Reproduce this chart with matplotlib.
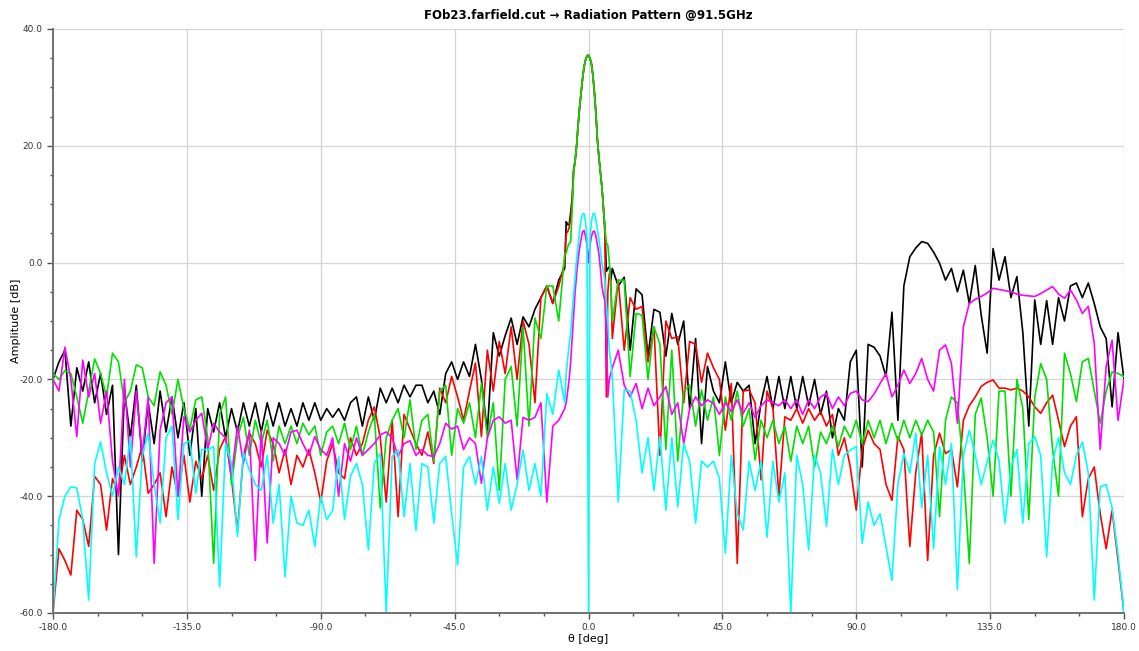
import numpy as np
import matplotlib
matplotlib.use('Agg')
import matplotlib.pyplot as plt
from matplotlib.ticker import MultipleLocator, FormatStrFormatter

# Eje theta: paso 2 grados fuera del lobulo principal, 0.5 grados en el centro
theta = np.concatenate([np.arange(-180, -7, 2), np.arange(-7.5, 7.6, 0.5), np.arange(8, 181, 2)])

# ---------------------------------------------------------------- negro
negro_izq = [-20, -17, -15, -28, -18, -22, -17, -24, -19, -26,
             -21, -50, -22, -30, -21, -34, -24, -31, -22, -29,
             -23, -30, -24, -33, -25, -40, -25, -29, -24, -30,
             -25, -29, -24, -28, -24, -29, -24, -28, -24, -28,
             -25, -28, -24, -27, -24, -27, -25, -26.5, -25, -27,
             -24, -23, -28, -23, -27, -21.5, -24, -21.5, -24, -21,
             -23, -21, -21, -24, -22, -26, -19, -17, -20, -17,
             -19.5, -14, -20, -29, -12, -16, -12.5, -9.5, -14, -9.3,
             -11, -8, -6, -4, -7, -3, -1]
negro_centro = [7, 6.5, 6.5, 8.5, 11, 16, 17.5, 20, 23.5, 26.5,
                29, 31.5, 33.5, 34.7, 35.4, 35.5, 35, 34, 32, 29,
                25.5, 21, 18, 15.5, 13, 9.5, 6, -1.5, -1, -0.7, -3]
negro_der = [-1, -4, -2.5, -15, -4.5, -5.5, -16, -8, -8.5, -16,
             -8.7, -14, -10, -25, -13, -31, -17.8, -22, -24, -17,
             -24, -20.5, -22, -21, -31, -24, -19.5, -25, -19.5, -25,
             -19.5, -25, -19.5, -24.5, -20, -26, -22, -30, -25, -27,
             -17, -15, -35, -14, -14.5, -16, -19.5, -8.5, -27, -4,
             1, 2.5, 3.6, 3.3, 1.8, -0.1, -3, -1, -5, -1.3,
             -7, -0.5, -9, -15.5, 2.4, -3, 1, -6, -2.4, -12,
             -28, -6.4, -14, -6.5, -14, -6, -10, -4, -3.5, -6,
             -3.5, -7, -11, -13, -24.7, -12, -20]

# ---------------------------------------------------------------- rojo
rojo_izq = [-60, -49, -51, -53.5, -42.4, -44, -48.6, -36.6, -38, -45.8,
            -37, -39.5, -33, -38, -35, -31.5, -39.5, -38, -36, -43.5,
            -35, -40, -33, -41, -34, -37, -33, -39, -32, -29.8,
            -37, -46, -33, -29.2, -31, -35, -28.7, -31, -36, -32,
            -38, -33, -35, -32, -36, -41, -34, -31, -36, -37,
            -30, -33, -31, -27, -24.7, -30, -41, -27, -43.5, -26,
            -28.5, -31, -33, -29, -34.4, -21.5, -24, -19.5, -23, -27,
            -22, -17.2, -29.8, -15, -22, -13.5, -19, -11, -20, -10,
            -14, -24, -6, -4, -7, -4, 0]
rojo_centro = [5, 5.3, 6, 7.5, 10, 15.5, 17.3, 20, 23.5, 26.5,
               29, 31.5, 33.5, 34.7, 35.4, 35.5, 35, 34, 32, 29,
               25.5, 21, 18, 15.5, 13, 9.5, 5, -23, -5, -1.9, -3]
rojo_der = [-13, -3, -15, -6, -8, -7.5, -17, -11, -33, -10,
            -13, -12.7, -24, -13.5, -14, -20.5, -15.5, -18, -20, -28.7,
            -20.7, -51.5, -22, -21.8, -24, -37.2, -22, -25, -40, -26.4,
            -27, -25, -27.5, -25, -27, -25.5, -28, -26, -33, -30,
            -35, -42.4, -32, -28.7, -31, -32, -38, -40.7, -29.8, -32,
            -48.6, -36, -29.2, -51, -33, -29.2, -32.7, -32, -38.4, -27,
            -24.5, -23, -21.2, -20.5, -20.1, -21.5, -21.5, -21.8, -21.5, -22,
            -23, -24.7, -25.8, -24, -22.7, -27, -31.5, -28, -26.4, -43.5,
            -37, -35, -43, -49, -42.4, -51, -60]

# ---------------------------------------------------------------- verde
verde_izq = [-19, -20, -18.5, -19, -23, -27.5, -22, -16.5, -19, -23,
             -15.5, -17, -24, -22, -17.5, -18, -23, -24.5, -18.7, -21,
             -26, -20, -25, -28.5, -23.5, -23, -30, -51.5, -26, -23,
             -38, -30, -26.5, -33, -27, -31, -27, -34, -28, -31,
             -28, -31, -27.5, -29.5, -28, -33, -29, -28, -31, -27.5,
             -32, -28, -33, -29, -26, -42, -30, -27, -25, -30,
             -23.5, -32, -27, -26, -34, -22, -21, -33, -25, -27.5,
             -24, -30, -20.7, -30, -24, -39, -20, -17.8, -28, -11,
             -28, -9.5, -13, -4, -4, -10, 1.5]
verde_centro = [1.6, 2.7, 3.3, 3.5, 9, 15.5, 17.5, 20, 23.5, 26.5,
                29, 31.5, 33.5, 34.7, 35.4, 35.5, 35, 34, 32, 29,
                25.5, 21, 18, 15.5, 13, 9.5, 6, 3.4, 3, 0, -4]
verde_der = [-10, -3, -3, -19.5, -8.7, -9, -20, -11, -14, -32,
             -15, -34, -22, -21, -28, -21.8, -27, -23, -33, -23,
             -27, -22, -28, -25, -33.8, -27, -30, -27, -31, -28,
             -34, -28, -31, -28, -35, -29, -31, -28, -31.5, -28,
             -30, -27, -31, -27, -30, -27, -31, -27.5, -30.5, -27,
             -30, -27, -29.5, -27, -29, -43.5, -27, -23, -24, -35,
             -51.5, -26, -23.2, -30, -40, -22, -22, -40, -20, -25,
             -44, -23, -17.3, -20, -32, -40, -15.5, -19, -23.8, -17,
             -16.4, -22, -27.5, -22, -18.7, -19, -19.5]

# ---------------------------------------------------------------- magenta
magenta_izq = [-20, -22, -14.5, -20, -29.8, -16.7, -23, -19, -27.5, -22,
               -34, -40, -20, -35, -22, -33, -23, -51.5, -28.7, -24,
               -23, -40, -26.4, -29, -27, -25.8, -32, -27.5, -29, -30,
               -36.6, -28, -34.4, -28.7, -51, -28.7, -48, -30, -31, -33,
               -29, -28.7, -31, -33, -29.8, -32, -33, -30, -40, -31,
               -34, -30, -33, -32, -31, -29.5, -29, -30, -33.2, -31,
               -30.5, -33, -32, -33, -33.2, -31, -27.5, -28.5, -28, -32,
               -30, -31, -37.8, -30, -27, -26.4, -27.5, -27, -37.2, -26.5,
               -27, -26.5, -24, -41, -28, -27, -25]
magenta_centro = [-24, -22, -20, -17, -13, -9, -5, -2, 0.5, 2.5,
                  4, 5.3, 5.5, 4.5, 3, 0, 3, 4.5, 5.3, 5.4,
                  4.5, 3, 1.5, -1, -4, -5.5, -6.5, -12, -23, -20, -19]
magenta_der = [-18, -15, -21, -23, -20.7, -25, -21.5, -24.5, -23, -21.2,
               -26, -24, -31, -25, -23, -24.5, -23.5, -24.1, -26, -24,
               -25.5, -23.5, -25.8, -24, -26.5, -24.5, -23.5, -24, -24.5, -23.5,
               -25, -23.5, -26, -23.5, -25, -23, -22.4, -25, -23, -24.5,
               -22.4, -22, -23.5, -23.8, -22.5, -20.7, -19, -23, -21, -18.4,
               -20.7, -19, -16.4, -20, -22, -15, -14.1, -17.3, -27.5, -11,
               -7, -6.3, -5.8, -5.2, -4.4, -4.6, -4.8, -5, -5.4, -5.6,
               -5.7, -5.8, -5.3, -4.7, -4.1, -5.4, -6.1, -4.7, -6.4, -8.7,
               -7.5, -13.8, -32, -17.8, -13.3, -27, -20]

# ---------------------------------------------------------------- cian
cian_izq = [-60, -44, -40, -38.4, -38.6, -44, -57.8, -34.4, -30.7, -36,
            -40, -35, -38, -29.8, -50.4, -33, -29.2, -38, -44.6, -30,
            -28, -44, -31, -30.5, -39.5, -32, -32, -31.5, -55.5, -31,
            -34.4, -46.9, -32.5, -35.5, -38, -39, -33, -44.6, -38, -53.8,
            -40, -44.6, -45, -42.4, -48.6, -40, -44, -42.5, -33.2, -44,
            -36.6, -34.4, -38, -49.2, -34.4, -32.7, -60, -33.2, -32.1, -43.5,
            -34.4, -45.8, -34.4, -35, -44.6, -34.4, -33.2, -43, -51.8, -35,
            -33.2, -38, -33.2, -42.4, -35, -41.2, -34.4, -42.4, -38, -32.1,
            -39, -34.4, -40, -22.4, -26, -18.4, -24]
cian_centro = [-19, -16.5, -14, -12, -8.5, -5.5, -2.5, 0.5, 3, 5.5,
               7.3, 8.3, 8.4, 7, 4, -60, 4, 7, 8.4, 8.4,
               7.3, 5.5, 4, 2, 0, -1.5, -3, -7, -10.4, -15, -17]
cian_der = [-19.5, -41, -21.8, -22, -27, -36, -30, -39, -29.8, -42.4,
            -30, -41.8, -31, -34, -44.6, -34, -35, -34, -37, -49.8,
            -33, -43, -45.8, -34, -39, -34, -47, -34, -41, -36,
            -60, -33, -38, -49.2, -33, -36, -45.2, -32, -38, -33,
            -32.1, -31.5, -48.1, -41, -45, -43, -48.6, -54.4, -38, -32.7,
            -36, -29.2, -42, -33, -49, -31.5, -38, -31, -56, -33,
            -28.7, -33, -38, -34, -30.4, -34, -44.6, -35, -32, -44.6,
            -31, -29.8, -33, -50.4, -34, -30, -36, -38, -33, -30.7,
            -36, -57.8, -38.4, -38, -42, -50, -60]

series = [
    (negro_izq + negro_centro + negro_der, '#000000'),
    (rojo_izq + rojo_centro + rojo_der, '#ff0000'),
    (verde_izq + verde_centro + verde_der, '#00e000'),
    (magenta_izq + magenta_centro + magenta_der, '#ff00ff'),
    (cian_izq + cian_centro + cian_der, '#00ffff'),
]

############################################################################

fig = plt.figure(figsize=(11.39, 6.51), dpi=100)
ax = fig.add_axes([53 / 1139, 38 / 651, 1071 / 1139, 584 / 651])

for valores, color in series:
    ax.plot(theta, valores, color=color, linewidth=1.2)

ax.set_xlim(-180, 180)
ax.set_ylim(-60, 40)
ax.xaxis.set_major_locator(MultipleLocator(45))
ax.xaxis.set_minor_locator(MultipleLocator(15))
ax.yaxis.set_major_locator(MultipleLocator(20))
ax.yaxis.set_minor_locator(MultipleLocator(5))
ax.xaxis.set_major_formatter(FormatStrFormatter('%.1f'))
ax.yaxis.set_major_formatter(FormatStrFormatter('%.1f'))

ax.grid(True, which='major', color='#d4d4d4', linewidth=0.9)
ax.set_axisbelow(True)
for lado in ['top', 'right']:
    ax.spines[lado].set_visible(False)
for lado in ['left', 'bottom']:
    ax.spines[lado].set_color('#707070')
    ax.spines[lado].set_linewidth(1.4)

ax.tick_params(which='major', direction='out', length=4, width=1, color='#505050',
               labelsize=6.5, labelcolor='#333333')
ax.tick_params(which='minor', direction='out', length=2.5, width=1, color='#505050')

ax.set_title('FOb23.farfield.cut \u2192 Radiation Pattern @91.5GHz',
             fontsize=8.5, fontweight='bold', pad=7)
ax.set_xlabel('\u03b8 [deg]', fontsize=8, labelpad=1)
ax.set_ylabel('Amplitude [dB]', fontsize=8, labelpad=-1)

fig.savefig('out.png', dpi=100)
